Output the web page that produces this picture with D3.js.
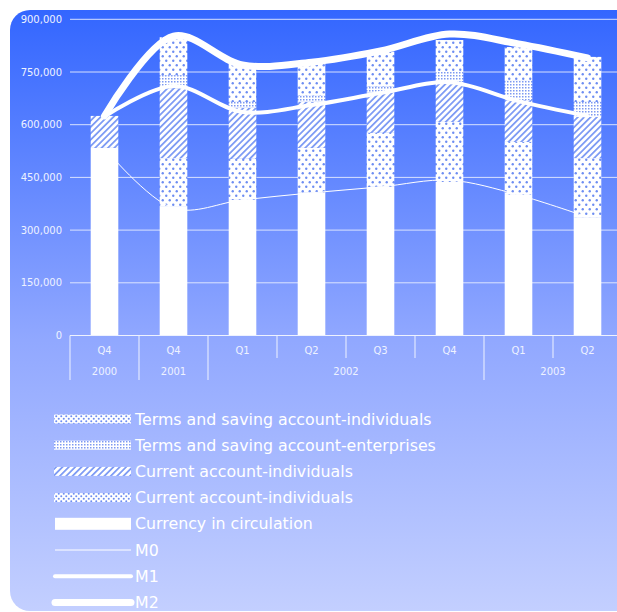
<html>
<head>
<title>Money supply</title>
<style>
  body { margin: 0; background: #fff; }
  text { font-family: "DejaVu Sans", Verdana, sans-serif; }
</style>
</head>
<body>
<script src="https://d3js.org/d3.v7.min.js"></script>
<script>
// data (values in units)
var quarters = ["Q4", "Q4", "Q1", "Q2", "Q3", "Q4", "Q1", "Q2"];
var years = ["2000", "2001", "2002", "2002", "2002", "2002", "2003", "2003"];
var currency     = [534000, 366000, 386000, 406000, 423000, 437000, 400000, 337000];
var curIndDots   = [0, 139000, 117000, 128000, 154000, 171000, 151000, 168000];
var curIndHatch  = [91000, 199000, 145000, 131000, 114000, 114000, 119000, 117000];
var termEnt      = [0, 37000, 17000, 17000, 17000, 28000, 57000, 43000];
var termInd      = [0, 108000, 108000, 94000, 100000, 91000, 94000, 128000];
var m0 = [533000, 362000, 386000, 406000, 423000, 442000, 400000, 337000];
var m1 = [623000, 710000, 636000, 656000, 690000, 721000, 667000, 625000];
var m2 = [625000, 852000, 770000, 778000, 810000, 858000, 830000, 790000];
var yTicks = [0, 150000, 300000, 450000, 600000, 750000, 900000];

var width = 617, height = 612;
var plotLeft = 70, plotRight = 622, plotTop = 19.3, plotBottom = 335.5;

var svg = d3.select("body").append("svg").attr("width", width).attr("height", height);
var defs = svg.append("defs");

// background gradient
var grad = defs.append("linearGradient").attr("id", "bg").attr("x1", 0).attr("y1", 0).attr("x2", 0).attr("y2", 1);
grad.append("stop").attr("offset", "0%").attr("stop-color", "#3366ff");
grad.append("stop").attr("offset", "55%").attr("stop-color", "#91a8ff");
grad.append("stop").attr("offset", "100%").attr("stop-color", "#c3cfff");

// patterns
function dots(id, w, h, r, col) {
  var p = defs.append("pattern").attr("id", id).attr("patternUnits", "userSpaceOnUse").attr("width", w).attr("height", h);
  p.append("rect").attr("width", w).attr("height", h).attr("fill", "#fff");
  p.append("circle").attr("cx", w / 4).attr("cy", h / 4).attr("r", r).attr("fill", col);
  p.append("circle").attr("cx", w * 3 / 4).attr("cy", h * 3 / 4).attr("r", r).attr("fill", col);
}
dots("pTermInd", 7, 9, 1.2, "#6d8df2");
dots("pCurDots", 7, 9, 1.2, "#6d8df2");
dots("pTermIndS", 5, 5, 1, "#6d8df2");
dots("pCurDotsS", 5, 5, 1, "#6d8df2");
var pe = defs.append("pattern").attr("id", "pTermEnt").attr("patternUnits", "userSpaceOnUse").attr("width", 3).attr("height", 3);
pe.append("rect").attr("width", 3).attr("height", 3).attr("fill", "#fff");
pe.append("rect").attr("width", 1.5).attr("height", 1.5).attr("fill", "#7d99f2");
var ph = defs.append("pattern").attr("id", "pHatch").attr("patternUnits", "userSpaceOnUse").attr("width", 4.5).attr("height", 4.5)
  .attr("patternTransform", "rotate(45)");
ph.append("rect").attr("width", 4.5).attr("height", 4.5).attr("fill", "#fff");
ph.append("rect").attr("width", 1.8).attr("height", 4.5).attr("fill", "#7f9cf4");

svg.append("rect").attr("x", 10).attr("y", 10).attr("width", 640).attr("height", 601)
  .attr("rx", 20).attr("fill", "url(#bg)");

var x = d3.scaleBand().domain(d3.range(quarters.length)).range([plotLeft, plotRight]).paddingInner(0.6).paddingOuter(0.3);
var y = d3.scaleLinear().domain([0, 900000]).range([plotBottom, plotTop]);

// grid + y labels
svg.append("g").selectAll("line").data(yTicks).enter().append("line")
  .attr("x1", plotLeft).attr("x2", width).attr("y1", function(d){ return y(d); }).attr("y2", function(d){ return y(d); })
  .attr("stroke", "#e6ecff").attr("stroke-opacity", 0.9).attr("stroke-width", 1);
svg.append("g").selectAll("text").data(yTicks).enter().append("text")
  .attr("x", 62).attr("y", function(d){ return y(d) + 3.5; })
  .attr("text-anchor", "end").attr("font-size", 10).attr("fill", "#eef2ff")
  .text(function(d){ return d3.format(",")(d); });

// stacked bars
var keys = ["currency", "curIndDots", "curIndHatch", "termEnt", "termInd"];
var fills = { currency: "#fff", curIndDots: "url(#pCurDots)", curIndHatch: "url(#pHatch)", termEnt: "url(#pTermEnt)", termInd: "url(#pTermInd)" };
var table = quarters.map(function(q, i) {
  return { i: i, currency: currency[i], curIndDots: curIndDots[i], curIndHatch: curIndHatch[i], termEnt: termEnt[i], termInd: termInd[i] };
});
var series = d3.stack().keys(keys)(table);
svg.append("g").selectAll("g").data(series).enter().append("g")
  .attr("fill", function(s){ return fills[s.key]; })
  .selectAll("rect").data(function(s){ return s; }).enter().append("rect")
  .attr("x", function(d){ return x(d.data.i); })
  .attr("width", x.bandwidth())
  .attr("y", function(d){ return y(d[1]); })
  .attr("height", function(d){ return y(d[0]) - y(d[1]); });

// lines
var line = d3.line().x(function(d, i){ return x(i) + x.bandwidth() / 2; }).y(function(d){ return y(d); })
  .curve(d3.curveCatmullRom.alpha(0.5));
[[m0, 1], [m1, 4], [m2, 7]].forEach(function(l) {
  svg.append("path").attr("d", line(l[0])).attr("fill", "none").attr("stroke", "#fff")
    .attr("stroke-width", l[1]).attr("stroke-linecap", "round").attr("stroke-linejoin", "round");
});

// x axis boxes
var ax = svg.append("g").attr("stroke", "#eef2ff").attr("stroke-width", 1);
ax.append("line").attr("x1", plotLeft).attr("x2", width).attr("y1", plotBottom).attr("y2", plotBottom);
var step = x.step();
quarters.forEach(function(q, i) {
  var bx = plotLeft + i * step;
  var newYear = i === 0 || years[i] !== years[i - 1];
  ax.append("line").attr("x1", bx).attr("x2", bx).attr("y1", plotBottom).attr("y2", newYear ? 380 : 358);
});
svg.append("g").selectAll("text").data(quarters).enter().append("text")
  .attr("x", function(d, i){ return x(i) + x.bandwidth() / 2; }).attr("y", 354)
  .attr("text-anchor", "middle").attr("font-size", 10).attr("fill", "#eef2ff")
  .text(function(d){ return d; });
var groups = d3.groups(d3.range(years.length), function(i){ return years[i]; });
svg.append("g").selectAll("text").data(groups).enter().append("text")
  .attr("x", function(g){ return plotLeft + (g[1][0] + (g[1][g[1].length - 1] + 1)) / 2 * step; })
  .attr("y", 375).attr("text-anchor", "middle").attr("font-size", 10).attr("fill", "#eef2ff")
  .text(function(g){ return g[0]; });

// legend
var legendNames = ["Terms and saving account-individuals", "Terms and saving account-enterprises",
  "Current account-individuals", "Current account-individuals", "Currency in circulation", "M0", "M1", "M2"];
var legendKinds = ["pTermIndS", "pTermEnt", "pHatch", "pCurDotsS", "solid", 1, 4, 7];
var lg = svg.append("g");
legendNames.forEach(function(name, i) {
  var cy = 419 + i * 26.2;
  var k = legendKinds[i];
  if (typeof k === "number") {
    lg.append("line").attr("x1", 55).attr("x2", 131).attr("y1", cy).attr("y2", cy)
      .attr("stroke", "#fff").attr("stroke-width", k).attr("stroke-linecap", k > 1 ? "round" : "butt");
  } else if (k === "solid") {
    lg.append("rect").attr("x", 55).attr("y", cy - 6).attr("width", 76).attr("height", 12).attr("fill", "#fff");
  } else {
    lg.append("rect").attr("x", 54).attr("y", cy - 4.5).attr("width", 77).attr("height", 9).attr("fill", "url(#" + k + ")");
  }
  lg.append("text").attr("x", 135).attr("y", cy + 5.5).attr("font-size", 15.8).attr("fill", "#fff").text(name);
});
</script>
</body>
</html>
